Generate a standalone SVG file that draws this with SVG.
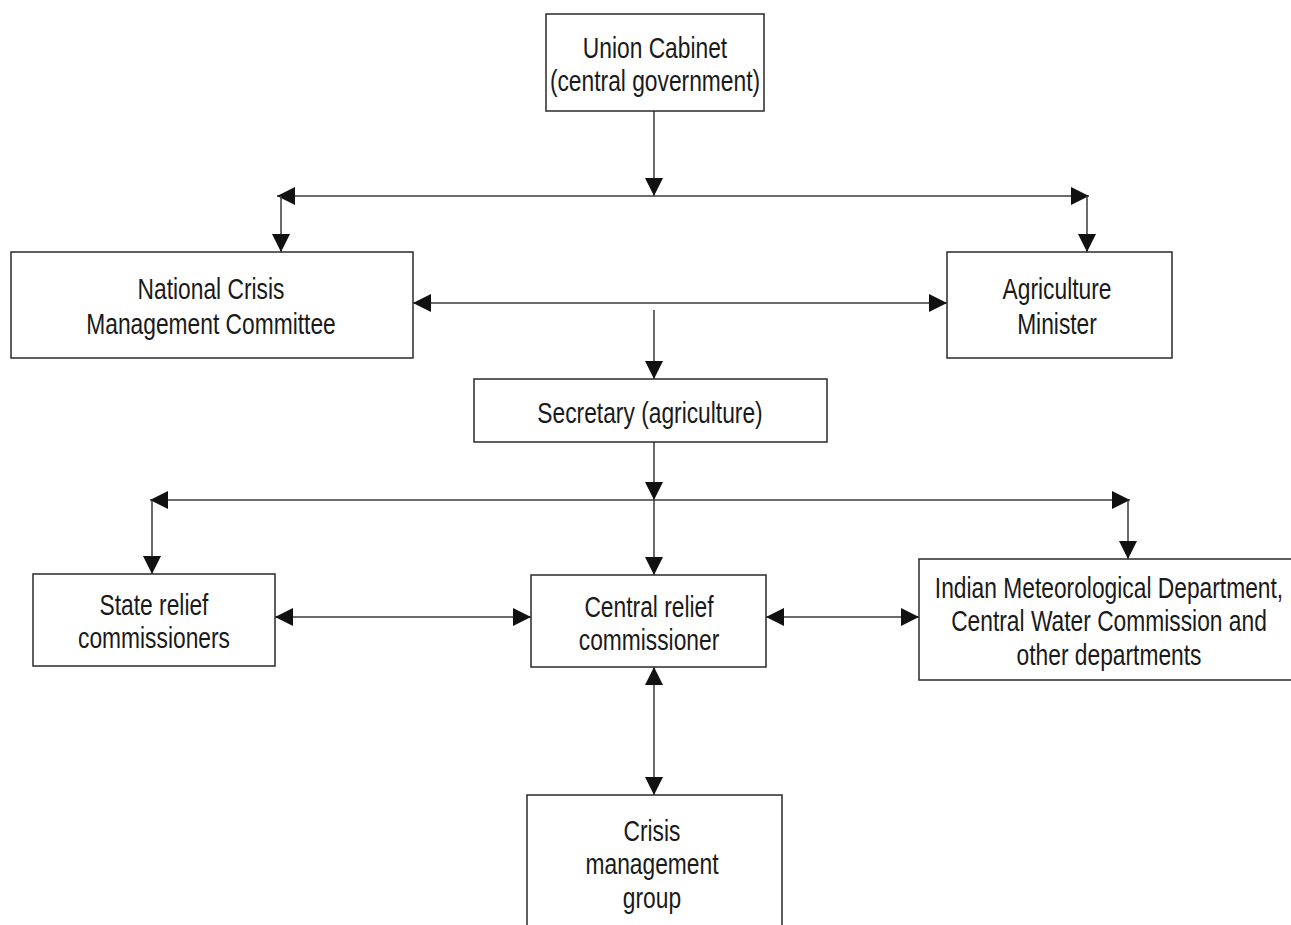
<svg xmlns="http://www.w3.org/2000/svg" width="1291" height="925" viewBox="0 0 1291 925">
<style>
.box{fill:#fff;stroke:#2a2a2a;stroke-width:1.5}
.lbl{font-family:"Liberation Sans",Arial,sans-serif;font-size:30px;fill:#1a1a1a;text-anchor:middle}
.con{stroke:#3a3a3a;stroke-width:1.5;fill:none}
.a1{marker-end:url(#ah)}
.a2{marker-start:url(#ah);marker-end:url(#ah)}
</style>
<defs>
<marker id="ah" viewBox="0 0 18 18" refX="18" refY="9" markerWidth="18" markerHeight="18" markerUnits="userSpaceOnUse" orient="auto-start-reverse">
<path d="M0,0 L18,9 L0,18 z" fill="#111"/>
</marker>
</defs>
<rect width="1291" height="925" fill="#fff"/>
<g id="connectors">
<line class="con a1" x1="654" y1="111" x2="654" y2="196"/>
<line class="con a2" x1="277" y1="196" x2="1089" y2="196"/>
<line class="con a1" x1="281" y1="196" x2="281" y2="252"/>
<line class="con a1" x1="1087" y1="196" x2="1087" y2="252"/>
<line class="con a2" x1="413" y1="303" x2="947" y2="303"/>
<line class="con a1" x1="654" y1="310" x2="654" y2="379"/>
<line class="con a1" x1="654" y1="442" x2="654" y2="500"/>
<line class="con a2" x1="150" y1="500" x2="1130" y2="500"/>
<line class="con a1" x1="152" y1="500" x2="152" y2="574"/>
<line class="con a1" x1="1128" y1="500" x2="1128" y2="559"/>
<line class="con a1" x1="654" y1="500" x2="654" y2="575"/>
<line class="con a2" x1="275" y1="617" x2="531" y2="617"/>
<line class="con a2" x1="766" y1="617" x2="919" y2="617"/>
<line class="con a2" x1="654" y1="667" x2="654" y2="795"/>
</g>
<g id="union-cabinet">
<rect class="box" x="546" y="14" width="218" height="97"/>
<text class="lbl" transform="translate(655 58) scale(0.76 1)"><tspan x="0" y="0">Union Cabinet</tspan><tspan x="0" y="33">(central government)</tspan></text>
</g>
<g id="ncmc">
<rect class="box" x="11" y="252" width="402" height="106"/>
<text class="lbl" transform="translate(211 299) scale(0.76 1)"><tspan x="0" y="0">National Crisis</tspan><tspan x="0" y="35">Management Committee</tspan></text>
</g>
<g id="agriculture-minister">
<rect class="box" x="947" y="252" width="225" height="106"/>
<text class="lbl" transform="translate(1057 299) scale(0.76 1)"><tspan x="0" y="0">Agriculture</tspan><tspan x="0" y="35">Minister</tspan></text>
</g>
<g id="secretary">
<rect class="box" x="474" y="379" width="353" height="63"/>
<text class="lbl" transform="translate(650 423) scale(0.76 1)"><tspan x="0" y="0">Secretary (agriculture)</tspan></text>
</g>
<g id="state-relief">
<rect class="box" x="33" y="574" width="242" height="92"/>
<text class="lbl" transform="translate(154 615) scale(0.76 1)"><tspan x="0" y="0">State relief</tspan><tspan x="0" y="33">commissioners</tspan></text>
</g>
<g id="central-relief">
<rect class="box" x="531" y="575" width="235" height="92"/>
<text class="lbl" transform="translate(649 617) scale(0.76 1)"><tspan x="0" y="0">Central relief</tspan><tspan x="0" y="33">commissioner</tspan></text>
</g>
<g id="imd">
<rect class="box" x="919" y="559" width="390" height="121"/>
<text class="lbl" transform="translate(1109 598) scale(0.76 1)"><tspan x="0" y="0">Indian Meteorological Department,</tspan><tspan x="0" y="33">Central Water Commission and</tspan><tspan x="0" y="67">other departments</tspan></text>
</g>
<g id="crisis-group">
<rect class="box" x="527" y="795" width="255" height="150"/>
<text class="lbl" transform="translate(652 841) scale(0.76 1)"><tspan x="0" y="0">Crisis</tspan><tspan x="0" y="33">management</tspan><tspan x="0" y="67">group</tspan></text>
</g>
</svg>
